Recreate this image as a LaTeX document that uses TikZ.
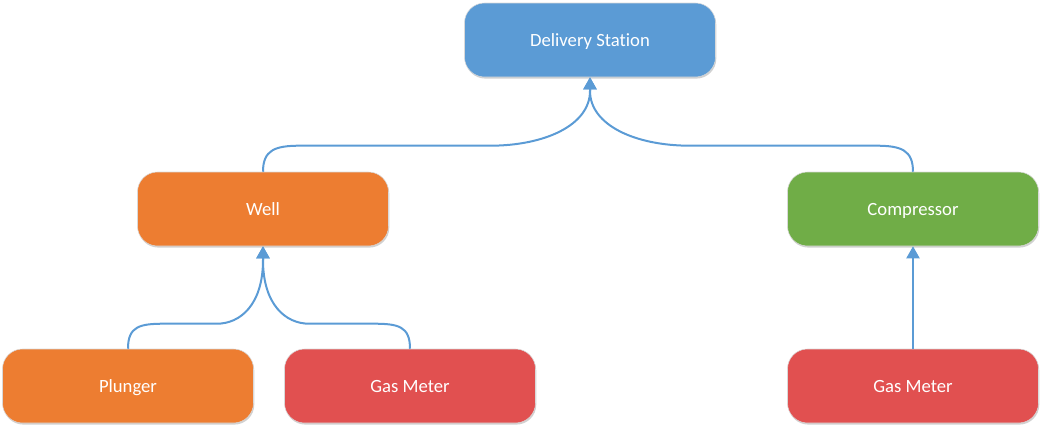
\documentclass[tikz,border=0pt]{standalone}
\usepackage{fontspec}
\setmainfont[Ligatures=NoCommon]{Carlito}
\usetikzlibrary{arrows.meta,shadows}
\definecolor{cblue}{HTML}{5B9BD5}
\definecolor{corange}{HTML}{ED7D31}
\definecolor{cgreen}{HTML}{70AD47}
\definecolor{cred}{HTML}{E15050}
\definecolor{cline}{HTML}{5B9BD5}
\tikzset{
  box/.style={rectangle, rounded corners=15pt, minimum width=188.25pt, minimum height=55.5pt,
    inner sep=0pt, text=white, font=\fontsize{14}{17}\selectfont, text height=9pt, text depth=0pt,
    draw=white!85!black, line width=0.4pt,
    drop shadow={shadow xshift=0.6pt, shadow yshift=-1.2pt, opacity=0.18, fill=black}},
  conn/.style={draw=cline, line width=1.5pt, -{Triangle[length=9pt,width=9.75pt]}}
}
\begin{document}
\begin{tikzpicture}[x=0.75pt,y=0.75pt]
\useasboundingbox (0,0) rectangle (1043,430);
\node[box, fill=cblue]   (ds)    at (590,390) {Delivery Station};
\node[box, fill=corange] (well)  at (263,221) {Well};
\node[box, fill=cgreen]  (comp)  at (913,221) {Compressor};
\node[box, fill=corange] (plung) at (128,44)  {Plunger};
\node[box, fill=cred]    (gmA)   at (410,44)  {Gas Meter};
\node[box, fill=cred]    (gmB)   at (913,44)  {Gas Meter};

\draw[conn] (well.north) .. controls (263,280) and (275,284.3) .. (300,284.3) -- (490,284.3)
  .. controls (545,284.3) and (590,305) .. (590,339) -- (ds.south);
\draw[conn] (comp.north) .. controls (913,280) and (901,284.3) .. (876,284.3) -- (690,284.3)
  .. controls (635,284.3) and (590,305) .. (590,339) -- (ds.south);
\draw[conn] (plung.north) .. controls (128,104) and (140,106.3) .. (165,106.3) -- (217,106.3)
  .. controls (240,106.3) and (263,125) .. (263,170) -- (well.south);
\draw[conn] (gmA.north) .. controls (410,104) and (398,106.3) .. (373,106.3) -- (309,106.3)
  .. controls (286,106.3) and (263,125) .. (263,170) -- (well.south);
\draw[conn] (gmB.north) -- (comp.south);
\end{tikzpicture}
\end{document}
